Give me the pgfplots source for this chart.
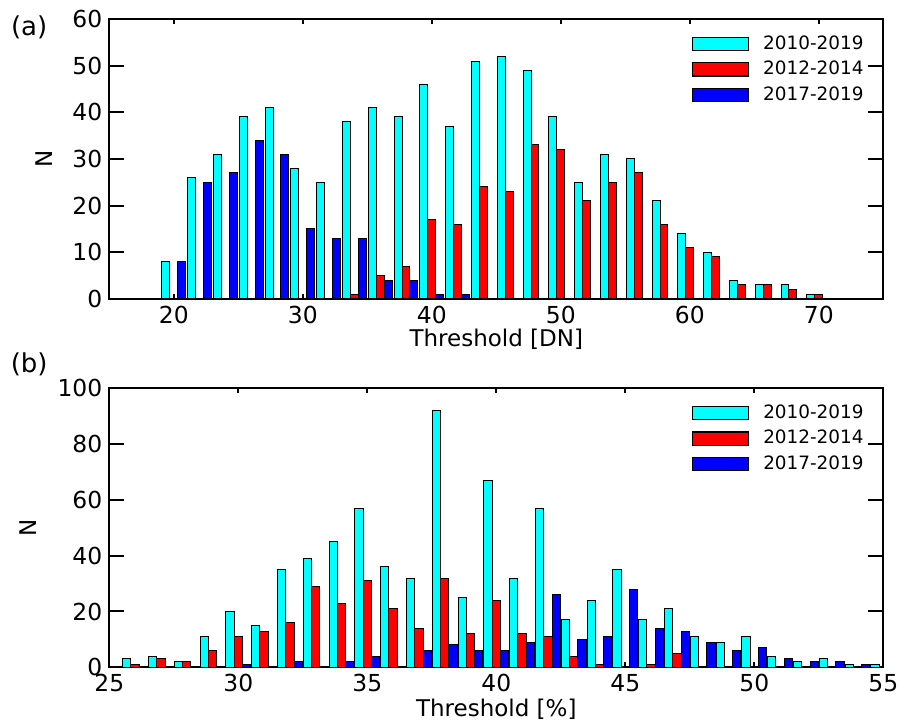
\documentclass[border=0pt]{standalone}
\usepackage{pgfplots}
\pgfplotsset{compat=1.18}
\usepackage{fontspec}
\setmainfont{DejaVu Sans}
\definecolor{ccyan}{RGB}{0,255,255}
\definecolor{cred}{RGB}{255,0,0}
\definecolor{cblue}{RGB}{0,0,255}
\pgfplotsset{
  panel/.style={
    scale only axis, width=387pt, height=140pt,
    axis line style={line width=1pt},
    tick style={line width=1pt, black},
    tick align=inside,
    xtick style={/pgfplots/major tick length=2.5pt},
    ytick style={/pgfplots/major tick length=7.5pt},
    minor tick num=0,
    /pgf/number format/assume math mode=true,
    ticklabel style={font=\fontsize{11.7}{13}\selectfont},
    label style={font=\fontsize{11.5}{13}\selectfont},
    legend style={draw=none, fill=none, inner sep=0pt, at={(0.752,0.958)}, anchor=north west,
      font=\fontsize{9.2}{11}\selectfont, row sep=0pt,
      nodes={inner sep=2.2pt}},
    legend cell align=left,
  },
  leg/.style={legend image code/.code={\draw[##1, line width=0.6pt] (0pt,-3.3pt) rectangle (28pt,3.3pt);
     \path (33pt,0pt);}},
  barA/.style={ybar, bar width=0.62, draw=black, line width=0.5pt, fill=#1, leg},
  barB/.style={ybar, bar width=0.32, draw=black, line width=0.5pt, fill=#1, leg},
}
\begin{document}
\begin{tikzpicture}
\path[use as bounding box] (0,0) rectangle (449.5pt,361pt);
% ---------------- panel (a)
\begin{axis}[panel, at={(54.65pt,211.5pt)}, anchor=south west,
  xmin=15, xmax=75, ymin=0, ymax=60,
  xtick={20,30,...,70}, ytick={0,10,...,60},
  xlabel={Threshold [DN]}, ylabel={N},
  xlabel style={at={(axis description cs:0.5,-0.170)}, anchor=base},
  ylabel style={at={(axis description cs:-0.084,0.5)}, anchor=center},
]
\addplot[barA=ccyan] coordinates {
(19.38,8) (21.38,26) (23.38,31) (25.38,39) (27.38,41) (29.38,28) (31.38,25)
(33.38,38) (35.38,41) (37.38,39) (39.38,46) (41.38,37) (43.38,51) (45.38,52)
(47.38,49) (49.38,39) (51.38,25) (53.38,31) (55.38,30) (57.38,21) (59.38,14)
(61.38,10) (63.38,4) (65.38,3) (67.38,3) (69.38,1)};
\addlegendentry{2010-2019}
\addplot[barA=cred] coordinates {
(34,1) (36,5) (38,7) (40,17) (42,16) (44,24) (46,23) (48,33) (50,32) (52,21)
(54,25) (56,27) (58,16) (60,11) (62,9) (64,3) (66,3) (68,2) (70,1)};
\addlegendentry{2012-2014}
\addplot[barA=cblue] coordinates {
(20.62,8) (22.62,25) (24.62,27) (26.62,34) (28.62,31) (30.62,15) (32.62,13)
(34.62,13) (36.62,4) (38.62,4) (40.62,1) (42.62,1)};
\addlegendentry{2017-2019}
\end{axis}
% ---------------- panel (b)
\begin{axis}[panel, at={(54.65pt,27.35pt)}, anchor=south west, height=139.5pt,
  xmin=25, xmax=55, ymin=0, ymax=100,
  xtick={25,30,...,55}, ytick={0,20,...,100},
  xlabel={Threshold [\%]}, ylabel={N},
  xlabel style={at={(axis description cs:0.5,-0.175)}, anchor=base},
  ylabel style={at={(axis description cs:-0.105,0.5)}, anchor=center},
]
\addplot[barB=ccyan] coordinates {
(25.68,3) (26.68,4) (27.68,2) (28.68,11) (29.68,20) (30.68,15) (31.68,35)
(32.68,39) (33.68,45) (34.68,57) (35.68,36) (36.68,32) (37.68,92) (38.68,25)
(39.68,67) (40.68,32) (41.68,57) (42.68,17) (43.68,24) (44.68,35) (45.68,17)
(46.68,21) (47.68,11) (48.68,9) (49.68,11) (50.68,4) (51.68,2) (52.68,3)
(53.68,1) (54.68,1)};
\addlegendentry{2010-2019}
\addplot[barB=cred] coordinates {
(26,1) (27,3) (28,2) (29,6) (30,11) (31,13) (32,16) (33,29) (34,23) (35,31)
(36,21) (37,14) (38,32) (39,12) (40,24) (41,12) (42,11) (43,4) (44,1) (46,1) (47,5)};
\addlegendentry{2012-2014}
\addplot[barB=cblue] coordinates {
(30.32,1) (32.32,2) (34.32,2) (35.32,4) (37.32,6) (38.32,8) (39.32,6) (40.32,6)
(41.32,9) (42.32,26) (43.32,10) (44.32,11) (45.32,28) (46.32,14) (47.32,13)
(48.32,9) (49.32,6) (50.32,7) (51.32,3) (52.32,2) (53.32,2) (54.32,1)};
\addlegendentry{2017-2019}
\end{axis}
\node[font=\fontsize{13}{15}\selectfont, anchor=center] at (14.6pt,347.5pt) {(a)};
\node[font=\fontsize{13}{15}\selectfont, anchor=center] at (14.6pt,179pt) {(b)};
\end{tikzpicture}
\end{document}
